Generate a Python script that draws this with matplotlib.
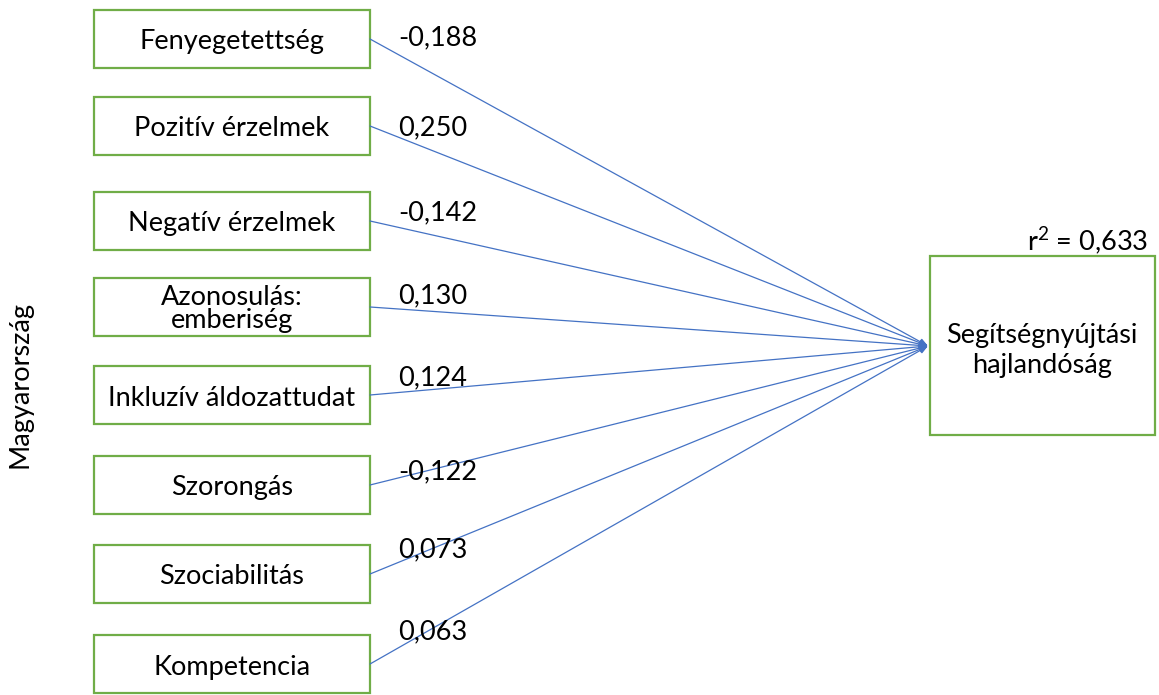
import matplotlib.pyplot as plt

# predictors (top to bottom) and their path coefficients
predictors = ["Fenyegetettség", "Pozitív érzelmek", "Negatív érzelmek",
              "Azonosulás:\nemberiség", "Inkluzív áldozattudat", "Szorongás",
              "Szociabilitás", "Kompetencia"]
coefs = ["-0,188", "0,250", "-0,142", "0,130", "0,124", "-0,122", "0,073", "0,063"]
outcome = "Segítségnyújtási\nhajlandóság"
r2_label = r"r$^{2}$ = 0,633"
group = "Magyarország"

GREEN = "#70ad47"
BLUE = "#4472c4"
FONT = ["Lato", "DejaVu Sans"]
FS = 19.5

plt.rcParams["mathtext.fontset"] = "custom"
plt.rcParams["mathtext.rm"] = "Lato"
plt.rcParams["mathtext.it"] = "Lato"
plt.rcParams["mathtext.default"] = "rm"

W, H = 1159, 695
fig = plt.figure(figsize=(W / 100, H / 100), dpi=100)
ax = fig.add_axes([0, 0, 1, 1])
ax.set_xlim(0, W)
ax.set_ylim(H, 0)
ax.axis("off")

box_x0, box_x1 = 94, 370
box_tops = [10, 97, 192, 278, 366, 456, 545, 635]
box_h = 58
tip = (928, 346)
label_y = [38, 128, 213, 296, 378, 472, 550, 632]

for name, c, top, ly in zip(predictors, coefs, box_tops, label_y):
    ax.add_patch(plt.Rectangle((box_x0, top), box_x1 - box_x0, box_h,
                               fill=False, ec=GREEN, lw=1.6))
    cy = top + box_h / 2
    ty = cy + 3 if "\n" not in name else cy + 2
    ax.text((box_x0 + box_x1) / 2, ty, name, ha="center", va="center",
            fontsize=FS, family=FONT, linespacing=0.92)
    ax.annotate("", xy=tip, xytext=(box_x1, cy),
                arrowprops=dict(arrowstyle="-|>,head_length=0.5,head_width=0.2",
                                color=BLUE, lw=0.9, shrinkA=0, shrinkB=0))
    ax.text(398, ly, c, ha="left", va="center", fontsize=FS, family=FONT)

# outcome box
ax.add_patch(plt.Rectangle((930, 256), 225, 179, fill=False, ec=GREEN, lw=1.6))
ax.text(1042, 350, outcome, ha="center", va="center", fontsize=FS,
        family=FONT, linespacing=1.25)
ax.text(1148, 241, r2_label, ha="right", va="center", fontsize=FS, family=FONT)

ax.text(20, 385, group, rotation=90, ha="center", va="center",
        fontsize=FS, family=FONT)

fig.savefig("out.png", dpi=100)
